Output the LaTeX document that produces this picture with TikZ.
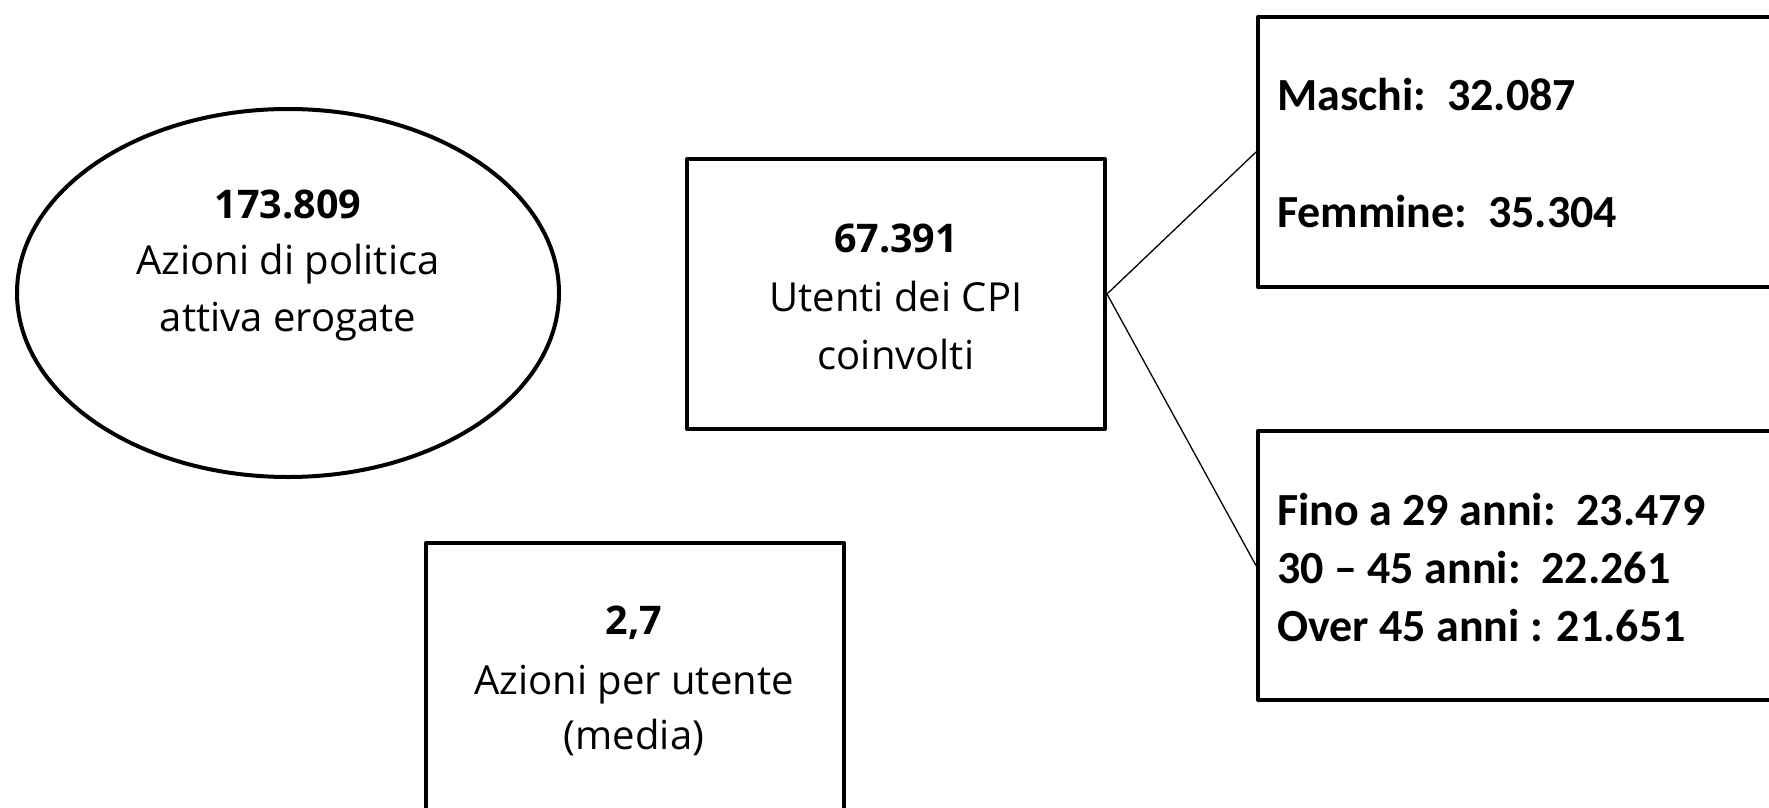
\documentclass[tikz,border=0pt]{standalone}
\usepackage{fontspec}
\setmainfont{Open Sans}
\newfontfamily\boxfont{Carlito}
\usetikzlibrary{shapes.geometric}
\tikzset{
  shapeline/.style={draw=black, line width=4pt, line join=round, fill=white, inner sep=0pt},
  conn/.style={draw=black, line width=1.3pt},
  numtxt/.style={anchor=base, inner sep=0pt, font=\fontsize{39.5}{44}\selectfont\bfseries},
  regtxt/.style={anchor=base, inner sep=0pt, font=\fontsize{40}{44}\selectfont},
  boxtxt/.style={anchor=base west, inner sep=0pt, font=\fontsize{46}{50}\selectfont\boxfont\bfseries},
}
\begin{document}
\begin{tikzpicture}[x=1pt,y=-1pt]
\useasboundingbox (0,0) rectangle (1769,808);
\clip (0,0) rectangle (1769,808);
\fill[white] (0,0) rectangle (1769,808);
% shapes
\node[shapeline, ellipse, minimum width=542pt, minimum height=368pt] (ell) at (288,293) {};
\node[shapeline, rectangle, minimum width=418pt, minimum height=270pt] (cpi) at (896,294) {};
\node[shapeline, rectangle, minimum width=542pt, minimum height=270pt] (sex) at (1529,152) {};
\node[shapeline, rectangle, minimum width=542pt, minimum height=269pt] (age) at (1529,565.5) {};
\node[shapeline, rectangle, minimum width=418pt, minimum height=300pt] (avg) at (635,693) {};
% connectors
\draw[conn] (cpi.east) -- (sex.west);
\draw[conn] (cpi.east) -- (age.west);
% ellipse text
\node[numtxt] (e1) at (288,218) {173.809};
\node[regtxt] (e2) at (288,274) {Azioni di politica};
\node[regtxt] (e3) at (288,331) {attiva erogate};
% cpi text
\node[numtxt] (c1) at (896,252) {67.391};
\node[regtxt] (c2) at (896,311) {Utenti dei CPI};
\node[regtxt] (c3) at (896,369) {coinvolti};
% avg text
\node[numtxt] (a1) at (634,634) {2,7};
\node[regtxt] (a2) at (634,694) {Azioni per utente};
\node[regtxt] (a3) at (634,749) {(media)};
% sex text
\node[boxtxt] (s1) at (1277,110) {Maschi:\ \ 32.087};
\node[boxtxt] (s2) at (1277,227) {Femmine:\ \ 35.304};
% age text
\node[boxtxt] (g1) at (1277,525) {Fino a 29 anni:\ \ 23.479};
\node[boxtxt] (g2) at (1277,583) {30 \textendash{} 45 anni:\ \ 22.261};
\node[boxtxt] (g3) at (1277,641) {Over 45 anni : 21.651};
\end{tikzpicture}
\end{document}
